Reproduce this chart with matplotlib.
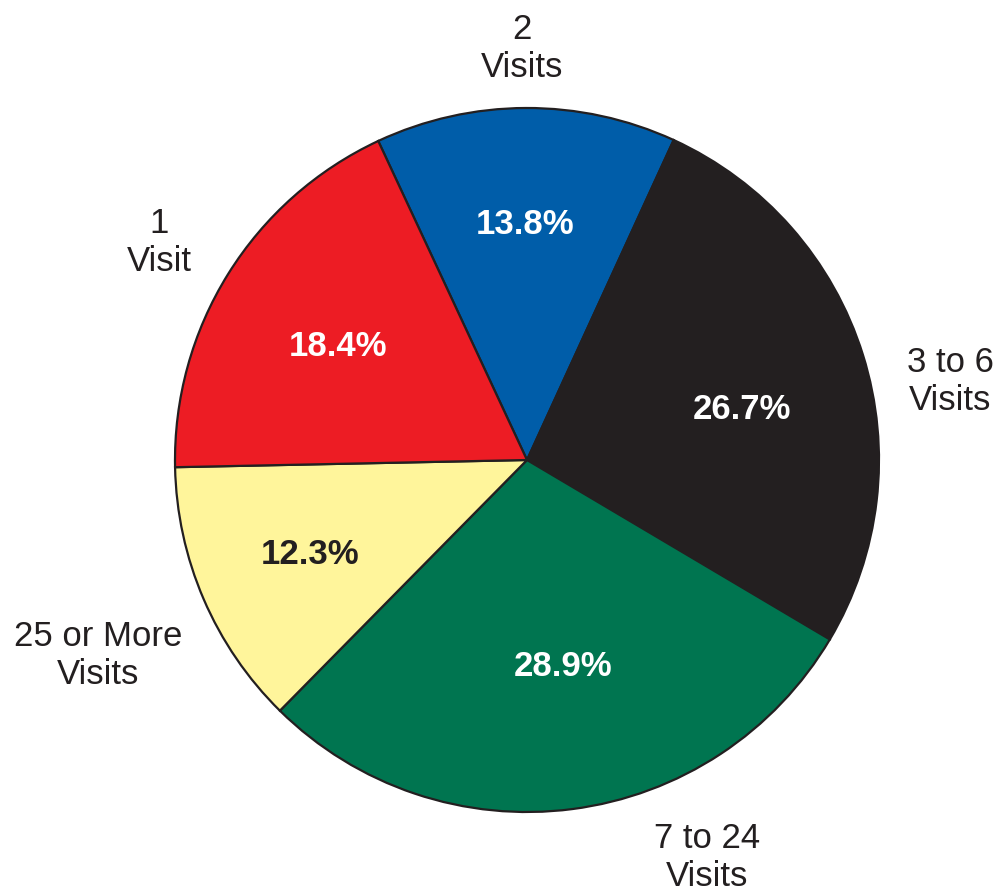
import numpy as np
import matplotlib
matplotlib.use("Agg")
import matplotlib.pyplot as plt

# ── data ──────────────────────────────────────────────────────────
categories = ["2\nVisits", "3 to 6\nVisits", "7 to 24\nVisits",
              "25 or More\nVisits", "1\nVisit"]
shares     = [13.8, 26.7, 28.9, 12.3, 18.4]
pct_labels = ["13.8%", "26.7%", "28.9%", "12.3%", "18.4%"]

colors     = ["#005DA9", "#231F20", "#007550", "#FFF59B", "#ED1C24"]
pct_colors = ["white", "white", "white", "#231F20", "white"]

# label placement (angle in degrees, radius as fraction of pie radius)
label_pos = [(90.7, 1.18), (11.0, 1.225), (-65.4, 1.23),
             (-155.9, 1.335), (149.0, 1.22)]
pct_pos   = [(90.5, 0.676), (13.8, 0.63), (-80.0, 0.59),
             (-156.8, 0.67), (148.7, 0.63)]

PX = 1 / 352   # one pixel in pie-radius units
plt.rcParams["font.family"] = ["Liberation Sans", "DejaVu Sans"]
TXT = "#231F20"

fig = plt.figure(figsize=(10.02, 8.94), dpi=100)
ax = fig.add_axes([175 / 1002, 82 / 894, 704 / 1002, 704 / 894])

ax.pie(shares, colors=colors, startangle=115, counterclock=False,
       radius=1.0,
       wedgeprops=dict(edgecolor="#231F20", linewidth=1.6))

for (ang, r), txt in zip(label_pos, categories):
    a = np.deg2rad(ang)
    ax.text(r * np.cos(a), r * np.sin(a) - 4 * PX, txt,
            ha="center", va="center",
            fontsize=25, color=TXT, linespacing=1.2)

for (ang, r), txt, c in zip(pct_pos, pct_labels, pct_colors):
    a = np.deg2rad(ang)
    ax.text(r * np.cos(a), r * np.sin(a) - 2 * PX, txt,
            ha="center", va="center",
            fontsize=25, fontweight="bold", color=c)

ax.set_xlim(-1, 1)
ax.set_ylim(-1, 1)
ax.set_aspect("equal")
ax.axis("off")

fig.savefig("out.png", dpi=100)
